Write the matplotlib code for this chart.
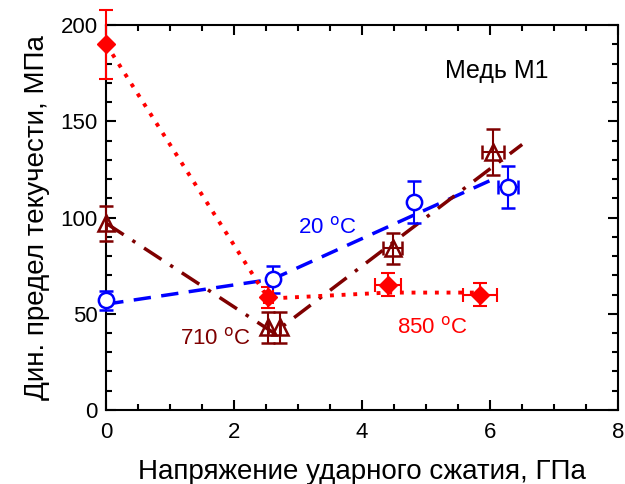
import numpy as np
import matplotlib.pyplot as plt
from matplotlib.ticker import MultipleLocator

plt.rcParams['font.family'] = ['Liberation Sans', 'DejaVu Sans']

# ------------------------------
# data
# ------------------------------

# 20 C, open circles
x20 = [0.0, 2.61, 4.81, 6.28]
y20 = [57, 68, 108, 116]
yerr20 = [5, 7, 11, 11]
xerr20 = [0.0, 0.0, 0.0, 0.15]
line20_x = [0.0, 2.6, 6.05]
line20_y = [55, 68, 120]

# 710 C, open triangles
x710 = [0.0, 2.53, 2.72, 4.48, 6.05]
y710 = [97, 43, 43, 84, 134]
yerr710 = [9, 8, 8, 8, 12]
xerr710 = [0.0, 0.0, 0.0, 0.15, 0.17]
line710_x = [0.0, 2.62, 6.5]
line710_y = [97, 40, 138]

# 850 C, filled diamonds
x850 = [0.0, 2.53, 4.4, 5.84]
y850 = [190, 58.5, 65, 60]
yerr850 = [18, 5.5, 6, 6]
xerr850 = [0.0, 0.07, 0.2, 0.27]
line850_x = [0.0, 2.45, 2.6, 4.4, 5.9]
line850_y = [190, 62, 58, 61, 61]

blue = '#0000ff'
dred = '#7f0000'
red = '#ff0000'

fig = plt.figure(figsize=(6.25, 4.84), dpi=100)
ax = fig.add_axes([0.17, 0.153, 0.819, 0.795])

# fit lines
ax.plot(line20_x, line20_y, color=blue, ls=(0, (5, 3)), lw=2.5)
ax.plot(line710_x, line710_y, color=dred, ls=(0, (6, 3, 1, 3)), lw=2.5)
ax.plot(line850_x, line850_y, color=red, ls=(0, (1, 2)), lw=2.8)

# points with error bars
ax.errorbar(x20, y20, yerr=yerr20, xerr=xerr20, fmt='o', ms=11, mfc='white',
            mec=blue, mew=1.8, ecolor=blue, elinewidth=1.5, capsize=5, capthick=1.5,
            clip_on=False, zorder=4)
ax.errorbar(x710, y710, yerr=yerr710, xerr=xerr710, fmt='^', ms=12, mfc='none',
            mec=dred, mew=1.8, ecolor=dred, elinewidth=1.5, capsize=5, capthick=1.5,
            clip_on=False, zorder=4)
ax.errorbar(x850, y850, yerr=yerr850, xerr=xerr850, fmt='D', ms=9, mfc=red,
            mec=red, ecolor=red, elinewidth=1.5, capsize=5, capthick=1.5,
            clip_on=False, zorder=4)

ax.text(6.1, 176, 'Медь М1', fontsize=18, ha='center', va='center')
ax.text(3.45, 95, '20 $^{\\rm o}$C', fontsize=16, color=blue, ha='center', va='center')
ax.text(1.7, 37, '710 $^{\\rm o}$C', fontsize=16, color=dred, ha='center', va='center')
ax.text(5.1, 43, '850 $^{\\rm o}$C', fontsize=16, color=red, ha='center', va='center')

ax.set_xlim(0, 8)
ax.set_ylim(0, 200)
ax.xaxis.set_major_locator(MultipleLocator(2))
ax.xaxis.set_minor_locator(MultipleLocator(0.5))
ax.yaxis.set_major_locator(MultipleLocator(50))
ax.yaxis.set_minor_locator(MultipleLocator(10))
ax.tick_params(which='both', direction='in', top=True, right=True, width=1.5, labelsize=16)
ax.tick_params(which='major', length=7, pad=6)
ax.tick_params(axis='x', which='major', pad=9)
ax.tick_params(which='minor', length=4)
for s in ax.spines.values():
    s.set_linewidth(1.5)

ax.set_xlabel('Напряжение ударного сжатия, ГПа', fontsize=20, labelpad=11)
ax.set_ylabel('Дин. предел текучести, МПа', fontsize=20, labelpad=8)

plt.savefig('out.png', dpi=100)
